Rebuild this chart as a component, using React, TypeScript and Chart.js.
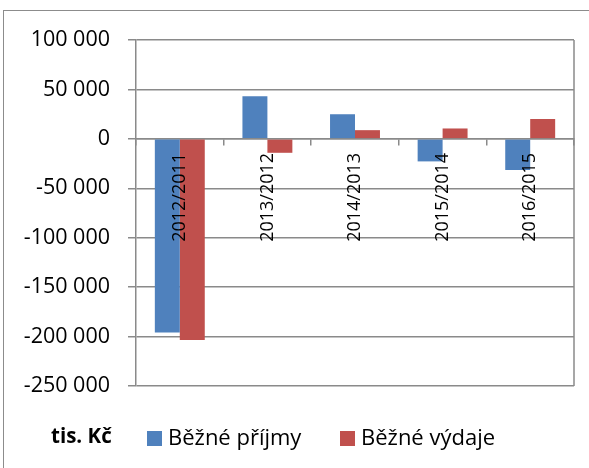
import React, { useEffect, useRef } from "react";
import { Chart, registerables } from "chart.js";

Chart.register(...registerables);

const categories = ["2012/2011", "2013/2012", "2014/2013", "2015/2014", "2016/2015"];
const prijmy = [-196000, 43000, 24900, -22800, -31500];
const vydaje = [-203400, -14100, 8800, 10500, 20100];
const seriesLabels = ["Běžné příjmy", "Běžné výdaje"];
const unitLabel = "tis. Kč";
const yMin = -250000;
const yMax = 100000;
const yStep = 50000;

const FONT = "'Open Sans'";
const GRID = "#8a8a8a";

function fmt(v: number): string {
  const s = String(Math.abs(v)).replace(/\B(?=(\d{3})+(?!\d))/g, " ");
  return (v < 0 ? "-" : "") + s;
}

const framePlugin = {
  id: "frame",
  beforeDraw(chart: any) {
    const ctx = chart.ctx;
    ctx.save();
    ctx.strokeStyle = "#8c8c8c";
    ctx.lineWidth = 1;
    ctx.strokeRect(3.5, 10.5, 800, 800);
    ctx.restore();
  },
  afterDraw(chart: any) {
    const ctx = chart.ctx;
    const a = chart.chartArea;
    ctx.save();
    ctx.strokeStyle = GRID;
    ctx.lineWidth = 1.5;
    ctx.beginPath();
    ctx.moveTo(a.right, a.top);
    ctx.lineTo(a.right, a.bottom);
    ctx.stroke();

    // legend
    const yMid = 438;
    ctx.fillStyle = "#000";
    ctx.textBaseline = "middle";
    ctx.textAlign = "left";
    ctx.font = `bold 20.5px ${FONT}`;
    ctx.fillText(unitLabel, 51, yMid - 1);
    const boxX = [147, 340];
    chart.data.datasets.forEach((ds: any, i: number) => {
      ctx.fillStyle = ds.backgroundColor;
      ctx.fillRect(boxX[i], yMid - 7, 15, 15);
      ctx.fillStyle = "#000";
      ctx.font = `22px ${FONT}`;
      ctx.fillText(ds.label, boxX[i] + 21, yMid + 1);
    });
    ctx.restore();
  },
};

export default function App() {
  const ref = useRef<HTMLCanvasElement>(null);
  useEffect(() => {
    if (!ref.current) return;
    const chart = new Chart(ref.current, {
      type: "bar",
      data: {
        labels: categories,
        datasets: [
          { label: seriesLabels[0], data: prijmy, backgroundColor: "#4F81BD", borderWidth: 0 },
          { label: seriesLabels[1], data: vydaje, backgroundColor: "#C0504D", borderWidth: 0 },
        ],
      },
      options: {
        responsive: false,
        animation: false,
        events: [],
        layout: { padding: { left: 0, top: 40, right: 15, bottom: 82 } },
        datasets: { bar: { categoryPercentage: 0.57, barPercentage: 1.0 } },
        plugins: { legend: { display: false }, tooltip: { enabled: false } },
        scales: {
          x: {
            position: { y: 0 } as any,
            grid: { drawOnChartArea: false, drawTicks: true, tickLength: 6, color: GRID, lineWidth: 1.5 },
            border: { display: true, color: GRID, width: 1.5 },
            ticks: {
              z: 1,
              autoSkip: false,
              minRotation: 90,
              maxRotation: 90,
              padding: 8,
              color: "#000",
              font: { family: FONT, size: 18 },
            },
          },
          y: {
            min: yMin,
            max: yMax,
            afterFit(scale: any) {
              scale.width = 136;
            },
            grid: { color: GRID, lineWidth: 1.5, drawTicks: true, tickLength: 8 },
            border: { display: true, color: GRID, width: 1.5 },
            ticks: {
              stepSize: yStep,
              padding: 18,
              color: "#000",
              font: { family: FONT, size: 21.5 },
              callback: (v: any) => fmt(Number(v)),
            },
          },
        },
      },
      plugins: [framePlugin],
    });
    return () => chart.destroy();
  }, []);
  return (
    <div style={{ position: "absolute", left: 0, top: 0, width: 589, height: 468, background: "#fff" }}>
      <canvas ref={ref} width={589} height={468} style={{ display: "block" }} />
    </div>
  );
}
